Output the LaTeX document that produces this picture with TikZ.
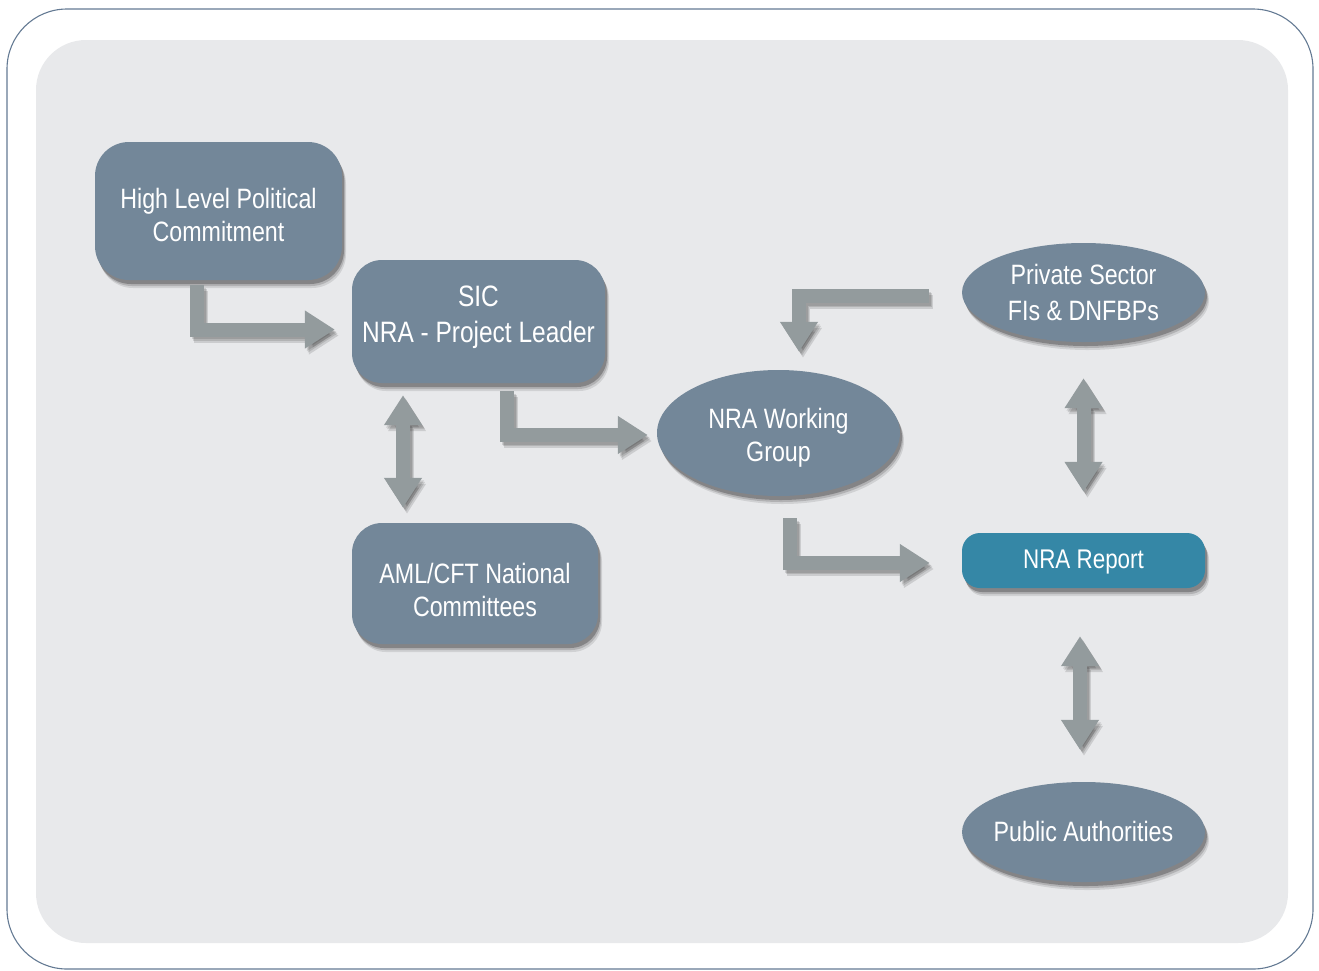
\documentclass[tikz,border=0pt]{standalone}
\usepackage{fontspec}
\setmainfont{Liberation Sans}[FakeStretch=0.83]
\usetikzlibrary{arrows.meta,shapes.geometric,shadows}
\definecolor{slate}{HTML}{738799}
\definecolor{teal}{HTML}{3587A6}
\definecolor{arrowgray}{HTML}{939B9D}
\definecolor{panel}{HTML}{E8E9EB}
\definecolor{border}{HTML}{647A93}
\tikzset{
  >={Triangle[width=36pt,length=30pt]},
  boxsh/.style={
    drop shadow={shadow xshift=4pt,shadow yshift=-8pt,opacity=0.10,fill=black},
    drop shadow={shadow xshift=3pt,shadow yshift=-6pt,opacity=0.15,fill=black},
    drop shadow={shadow xshift=2pt,shadow yshift=-4pt,opacity=0.25,fill=black}},
  txt/.style={text=white,align=center,inner sep=0pt,font=\fontsize{28}{33}\selectfont},
  wide/.style={font=\fontsize{28}{36}\selectfont},
  slatebox/.style={boxsh,fill=slate,rounded corners=34pt,inner sep=0pt},
  slateell/.style={boxsh,fill=slate,ellipse,inner sep=0pt},
  reportbox/.style={boxsh,fill=teal,rounded corners=18pt,inner sep=0pt},
  arr/.style={draw=arrowgray,line width=14pt,line join=miter},
  arrsh/.style={arr,draw=black,opacity=0.12,transform canvas={shift={(#1)}}},
}
\newcommand{\drawallarrows}[1]{%
  \draw[#1,->] ([xshift=-22pt,yshift=-5pt]hlpc.south) |- ([xshift=-17pt,yshift=-8pt]sic.west);
  \draw[#1,->] ([xshift=28.5pt,yshift=-8pt]sic.south) |- ([xshift=-9pt,yshift=-2pt]wg.west);
  \draw[#1,<->] ([xshift=-75.5pt,yshift=-12pt]sic.south) -- ([xshift=-72pt,yshift=15pt]aml.north);
  \draw[#1,->] ([xshift=-33pt,yshift=-3.5pt]ps.west) -| ([xshift=20.5pt,yshift=18pt]wg.north);
  \draw[#1,->] ([xshift=11.5pt,yshift=-22pt]wg.south) |- ([xshift=-32pt,yshift=-2.5pt]report.west);
  \draw[#1,<->] ([yshift=-36pt]ps.south) -- ([yshift=41pt]report.north);
  \draw[#1,<->] ([xshift=-3.5pt,yshift=-48pt]report.south) -- ([xshift=-3.5pt,yshift=32pt]pa.north);
}
\begin{document}
\begin{tikzpicture}[x=1pt,y=-1pt]
\useasboundingbox (0,0) rectangle (1319,970);
\draw[border,line width=1.1pt,rounded corners=60pt] (7,9) rectangle (1313,969);
\fill[panel,rounded corners=50pt] (36,40) rectangle (1288,943);

\node[slatebox,minimum width=247pt,minimum height=138pt] (hlpc) at (218.5,211) {};
\node[slatebox,rounded corners=30pt,minimum width=253pt,minimum height=123pt] (sic) at (478.5,321.5) {};
\node[slatebox,rounded corners=30pt,minimum width=246pt,minimum height=121pt] (aml) at (475,583.5) {};
\node[slateell,minimum width=243pt,minimum height=126pt] (wg) at (778.5,433) {};
\node[slateell,minimum width=243pt,minimum height=99pt] (ps) at (1083.5,292.5) {};
\node[reportbox,minimum width=243pt,minimum height=55pt] (report) at (1083.5,560.5) {};
\node[slateell,minimum width=243pt,minimum height=100pt] (pa) at (1083.5,832) {};

\node[txt] (hlpc-t) at ([yshift=-4pt]hlpc) {High Level Political\\Commitment};
\node[txt,wide,font=\fontsize{29.5}{36}\selectfont] (sic-t) at ([yshift=4pt]sic) {SIC\\NRA - Project Leader};
\node[txt] (aml-t) at ([yshift=-6pt]aml) {AML/CFT National\\Committees};
\node[txt] (wg-t) at ([yshift=-5pt]wg) {NRA Working\\Group};
\node[txt,wide] (ps-t) at (ps) {Private Sector\\FIs \& DNFBPs};
\node[txt,font=\fontsize{27}{33}\selectfont] (report-t) at ([yshift=-2pt]report) {NRA Report};
\node[txt] (pa-t) at ([yshift=1pt]pa) {Public Authorities};

\drawallarrows{arrsh={4pt,-6pt}}
\drawallarrows{arrsh={3pt,-4pt}}
\drawallarrows{arrsh={2pt,-2.5pt}}
\drawallarrows{arr}
\end{tikzpicture}
\end{document}
